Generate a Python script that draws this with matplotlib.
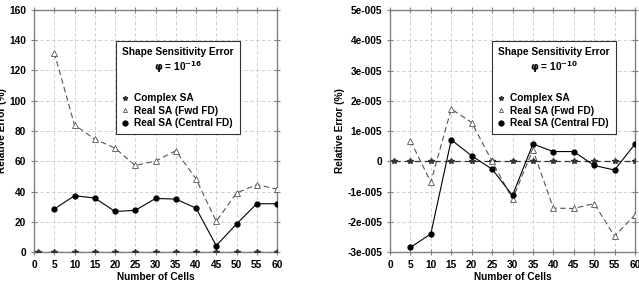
import matplotlib
matplotlib.use("Agg")
import matplotlib.pyplot as plt
from matplotlib.lines import Line2D

cells = [5, 10, 15, 20, 25, 30, 35, 40, 45, 50, 55, 60]
complex_x = [1, 5, 10, 15, 20, 25, 30, 35, 40, 45, 50, 55, 60]
complex_left = [0] * 13
fwd_left = [131.8, 84.0, 74.6, 68.7, 57.2, 60.1, 66.9, 48.4, 20.2, 39.0, 44.5, 41.6]
central_left = [28.4, 37.2, 35.7, 26.8, 27.5, 35.4, 35.0, 29.0, 4.2, 18.5, 31.9, 31.9]

complex_right = [0] * 13
fwd_right = [0.68e-5, -0.69e-5, 1.73e-5, 1.28e-5, 0.0, -1.25e-5, 0.38e-5, -1.55e-5,
             -1.56e-5, -1.40e-5, -2.48e-5, -1.77e-5]
central_right = [-2.85e-5, -2.40e-5, 0.71e-5, 0.18e-5, -0.26e-5, -1.13e-5, 0.57e-5,
                 0.32e-5, 0.32e-5, -0.14e-5, -0.29e-5, 0.57e-5]

xticks = list(range(0, 61, 5))
left_yticks = list(range(0, 161, 20))
right_yticks = [-3e-5, -2e-5, -1e-5, 0, 1e-5, 2e-5, 3e-5, 4e-5, 5e-5]
right_yticklabels = ["-3e-005", "-2e-005", "-1e-005", "0", "1e-005", "2e-005",
                     "3e-005", "4e-005", "5e-005"]

plt.rcParams['font.family'] = ['Liberation Sans', 'DejaVu Sans']
plt.rcParams['font.weight'] = 'bold'

FS = 7.3

fig = plt.figure(figsize=(6.39, 2.88), dpi=100)
ax1 = fig.add_axes([34/639, 1-252/288, (277-34)/639, (252-10)/288])
ax2 = fig.add_axes([390/639, 1-252/288, (635-390)/639, (252-10)/288])

def style(ax, yticks, ylabels, ylim, exp, anchor):
    ax.set_xlim(0, 60)
    ax.set_ylim(*ylim)
    ax.set_xticks(xticks)
    ax.set_yticks(yticks)
    if ylabels is not None:
        ax.set_yticklabels(ylabels)
    ax.grid(True, color='#c8c8c8', linestyle=(0, (4, 3)), linewidth=0.6)
    ax.set_axisbelow(True)
    for s in ax.spines.values():
        s.set_color('#808080')
        s.set_linewidth(1.0)
    ax.tick_params(direction='inout', length=5, width=0.8, color='#808080',
                   labelsize=FS, top=True, right=True)
    ax.tick_params(axis='x', pad=3.5)
    ax.tick_params(axis='y', pad=3)
    for lab in ax.get_xticklabels() + ax.get_yticklabels():
        lab.set_fontweight('bold')
    ax.set_xlabel('Number of Cells', fontsize=FS, fontweight='bold', labelpad=1)
    ax.set_ylabel('Relative Error (%)', fontsize=FS, fontweight='bold', labelpad=2)
    handles = [
        Line2D([], [], linestyle='none', marker='*', markersize=3.5, color='#333333'),
        Line2D([], [], linestyle='none', marker='^', markersize=3, markerfacecolor='white',
               markeredgecolor='#555555', markeredgewidth=0.6),
        Line2D([], [], linestyle='none', marker='o', markersize=3.5, color='black'),
    ]
    leg = ax.legend(handles, ['Complex SA', 'Real SA (Fwd FD)', 'Real SA (Central FD)'],
                    title='Shape Sensitivity Error\n$\\mathbf{\\varphi}$ = 10$^{\\mathbf{' + exp + '}}$',
                    loc='upper left', bbox_to_anchor=anchor,
                    prop={'size': FS, 'weight': 'bold'},
                    title_fontproperties={'size': FS, 'weight': 'bold'},
                    frameon=True, fancybox=False, edgecolor='#333333', framealpha=1,
                    handlelength=0.5, handletextpad=0.6, borderpad=0.6, labelspacing=0.25,
                    borderaxespad=0)
    leg.get_title().set_multialignment('center')
    leg.get_frame().set_linewidth(0.8)
    leg._legend_box.sep = 13

for ax, cl, fw, ce, yt, yl, ylim, exp, anchor in [
        (ax1, complex_left, fwd_left, central_left, left_yticks, None, (0, 160), '-16', (0.337, 0.872)),
        (ax2, complex_right, fwd_right, central_right, right_yticks, right_yticklabels,
         (-3e-5, 5e-5), '-10', (0.416, 0.872))]:
    ax.plot(complex_x, cl, linestyle=(0, (5, 3)), color='#333333', linewidth=0.9,
            marker='*', markersize=4, zorder=3)
    ax.plot(cells, fw, linestyle=(0, (5, 3)), color='#555555', linewidth=0.8,
            marker='^', markersize=4, markerfacecolor='white', markeredgecolor='#555555',
            markeredgewidth=0.6, zorder=3)
    ax.plot(cells, ce, linestyle='-', color='black', linewidth=0.8,
            marker='o', markersize=3.5, zorder=4)
    style(ax, yt, yl, ylim, exp, anchor)

fig.savefig('out.png', dpi=100)
